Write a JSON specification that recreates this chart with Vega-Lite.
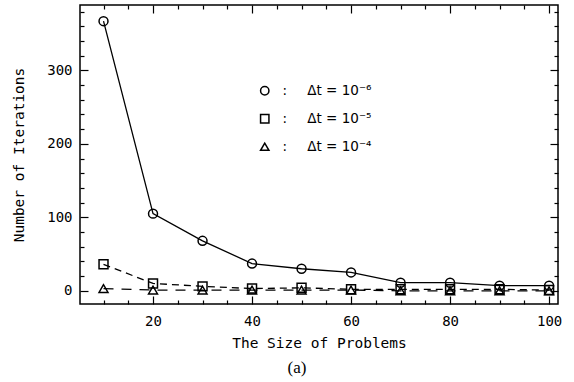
{
  "$schema": "https://vega.github.io/schema/vega-lite/v6.json",
  "width": 478,
  "height": 299,
  "autosize": "none",
  "padding": {"left": 80, "top": 5, "right": 16, "bottom": 78},
  "background": "white",
  "config": {
    "view": {"stroke": "black", "strokeWidth": 1.5},
    "axis": {"grid": false, "domain": false, "tickColor": "black", "tickWidth": 1.2, "labelColor": "black", "titleColor": "black", "labelFont": "DejaVu Sans Mono", "titleFont": "DejaVu Sans Mono", "labelFontSize": 14, "titleFontSize": 14.5, "titleFontWeight": "normal"}
  },
  "title": {"text": "(a)", "orient": "bottom", "font": "Liberation Serif", "fontSize": 17, "fontWeight": "normal", "color": "black", "dx": -22, "offset": 10},
  "data": {"values": [
    {"size": 10, "iter": 367, "series": "dt6"},
    {"size": 20, "iter": 105, "series": "dt6"},
    {"size": 30, "iter": 68, "series": "dt6"},
    {"size": 40, "iter": 37, "series": "dt6"},
    {"size": 50, "iter": 30, "series": "dt6"},
    {"size": 60, "iter": 25, "series": "dt6"},
    {"size": 70, "iter": 11, "series": "dt6"},
    {"size": 80, "iter": 11, "series": "dt6"},
    {"size": 90, "iter": 7, "series": "dt6"},
    {"size": 100, "iter": 7, "series": "dt6"},
    {"size": 10, "iter": 36, "series": "dt5"},
    {"size": 20, "iter": 10, "series": "dt5"},
    {"size": 30, "iter": 6, "series": "dt5"},
    {"size": 40, "iter": 3, "series": "dt5"},
    {"size": 50, "iter": 4, "series": "dt5"},
    {"size": 60, "iter": 2, "series": "dt5"},
    {"size": 70, "iter": 2, "series": "dt5"},
    {"size": 80, "iter": 2, "series": "dt5"},
    {"size": 90, "iter": 2, "series": "dt5"},
    {"size": 100, "iter": 1, "series": "dt5"},
    {"size": 10, "iter": 3, "series": "dt4"},
    {"size": 20, "iter": 1, "series": "dt4"},
    {"size": 30, "iter": 1, "series": "dt4"},
    {"size": 40, "iter": 1, "series": "dt4"},
    {"size": 50, "iter": 1, "series": "dt4"},
    {"size": 60, "iter": 1, "series": "dt4"},
    {"size": 70, "iter": 0, "series": "dt4"},
    {"size": 80, "iter": 0, "series": "dt4"},
    {"size": 90, "iter": 0, "series": "dt4"},
    {"size": 100, "iter": 0, "series": "dt4"}
  ]},
  "layer": [
    {
      "transform": [{"filter": "datum.series == 'dt6'"}],
      "mark": {"type": "line", "color": "black", "strokeWidth": 1.3},
      "encoding": {
        "x": {"field": "size", "type": "quantitative", "scale": {"domain": [5.25, 101.8], "nice": false, "zero": false}, "axis": {"orient": "bottom", "values": [20, 40, 60, 80, 100], "tickSize": -8, "labelPadding": 18, "title": "The Size of Problems", "titlePadding": 8}},
        "y": {"field": "iter", "type": "quantitative", "scale": {"domain": [-18, 389], "nice": false, "zero": false}, "axis": {"orient": "left", "values": [0, 100, 200, 300], "tickSize": -8, "labelPadding": 16, "title": "Number of Iterations", "titlePadding": 20}}
      }
    },
    {
      "transform": [{"filter": "datum.series == 'dt5'"}],
      "mark": {"type": "line", "color": "black", "strokeWidth": 1.3, "strokeDash": [7, 5]},
      "encoding": {
        "x": {"field": "size", "type": "quantitative", "scale": {"domain": [5.25, 101.8], "nice": false, "zero": false}, "axis": null},
        "y": {"field": "iter", "type": "quantitative", "scale": {"domain": [-18, 389], "nice": false, "zero": false}, "axis": null}
      }
    },
    {
      "transform": [{"filter": "datum.series == 'dt4'"}],
      "mark": {"type": "line", "color": "black", "strokeWidth": 1.3, "strokeDash": [10, 8]},
      "encoding": {
        "x": {"field": "size", "type": "quantitative", "scale": {"domain": [5.25, 101.8], "nice": false, "zero": false}, "axis": null},
        "y": {"field": "iter", "type": "quantitative", "scale": {"domain": [-18, 389], "nice": false, "zero": false}, "axis": null}
      }
    },
    {
      "mark": {"type": "point", "filled": false, "color": "black", "strokeWidth": 1.5, "size": 80, "opacity": 1},
      "encoding": {
        "x": {"field": "size", "type": "quantitative", "scale": {"domain": [5.25, 101.8], "nice": false, "zero": false}, "axis": {"orient": "bottom", "values": [10, 15, 25, 30, 35, 45, 50, 55, 65, 70, 75, 85, 90, 95], "tickSize": -4, "labels": false, "title": null}},
        "y": {"field": "iter", "type": "quantitative", "scale": {"domain": [-18, 389], "nice": false, "zero": false}, "axis": {"orient": "left", "values": [-20, 20, 40, 60, 80, 120, 140, 160, 180, 220, 240, 260, 280, 320, 340, 360, 380], "tickSize": -4, "labels": false, "title": null}},
        "shape": {"field": "series", "type": "nominal", "scale": {"domain": ["dt6", "dt5", "dt4"], "range": ["circle", "square", "triangle-up"]},
          "legend": {"orient": "none", "legendX": 178, "legendY": 79, "title": null, "labelExpr": "datum.value == 'dt6' ? ':\u2003\u2002Δt = 10⁻⁶' : datum.value == 'dt5' ? ':\u2003\u2002Δt = 10⁻⁵' : ':\u2003\u2002Δt = 10⁻⁴'", "labelFont": "DejaVu Sans", "labelFontSize": 13.5, "labelColor": "black", "labelOffset": 11, "rowPadding": 13, "symbolSize": 70, "symbolStrokeColor": "black", "symbolStrokeWidth": 1.5}}
      }
    },
    {
      "mark": {"type": "point", "size": 0, "stroke": "transparent"},
      "encoding": {
        "x": {"field": "size", "type": "quantitative", "scale": {"domain": [5.25, 101.8], "nice": false, "zero": false}, "axis": {"orient": "top", "values": [20, 40, 60, 80, 100], "tickSize": -8, "labels": false, "title": null}},
        "y": {"field": "iter", "type": "quantitative", "scale": {"domain": [-18, 389], "nice": false, "zero": false}, "axis": {"orient": "right", "values": [0, 100, 200, 300], "tickSize": -8, "labels": false, "title": null}}
      }
    },
    {
      "mark": {"type": "point", "size": 0, "stroke": "transparent"},
      "encoding": {
        "x": {"field": "size", "type": "quantitative", "scale": {"domain": [5.25, 101.8], "nice": false, "zero": false}, "axis": {"orient": "top", "values": [10, 15, 25, 30, 35, 45, 50, 55, 65, 70, 75, 85, 90, 95], "tickSize": -4, "labels": false, "title": null}},
        "y": {"field": "iter", "type": "quantitative", "scale": {"domain": [-18, 389], "nice": false, "zero": false}, "axis": {"orient": "right", "values": [-20, 20, 40, 60, 80, 120, 140, 160, 180, 220, 240, 260, 280, 320, 340, 360, 380], "tickSize": -4, "labels": false, "title": null}}
      }
    }
  ],
  "resolve": {"axis": {"x": "independent", "y": "independent"}}
}
